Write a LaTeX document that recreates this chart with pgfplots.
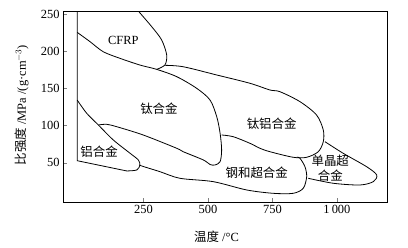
\documentclass[border=0pt]{standalone}
\usepackage{pgfplots}
\pgfplotsset{compat=1.18}
\usepackage{fontspec}
\setmainfont{Liberation Serif}
\newfontfamily\cjk{Noto Sans CJK SC}
\begin{document}
\begin{tikzpicture}[font=\fontsize{12.5}{15}\selectfont]
\begin{axis}[
  scale only axis,
  width=324bp, height=190.3bp,
  xmin=-62, xmax=1194, ymin=-3, ymax=253.2,
  xtick={250,500,750,1000}, xticklabels={250,500,750,1\,000},
  ytick={50,100,150,200,250}, yticklabels={50,100,150,200,250},
  tick pos=left, tick align=inside, major tick length=4bp,
  axis line style={line width=0.7bp},
  xlabel={{\cjk 温度} /°C},
  ylabel={{\cjk 比强度} /MPa /(g·cm$^{-3}$)},
  every axis x label/.style={at={(axis description cs:0.474,-0.182)}, anchor=center},
  every axis y label/.style={at={(axis description cs:-0.127,0.51)}, anchor=center, rotate=90},
  clip=false,
]
% left line and Al bottom
\addplot[black, line width=0.8bp, sharp plot] coordinates {(-7,253) (-7,52.6) (185,38.8)};
% Al upper curve and tip
\addplot[black, line width=0.8bp, smooth] coordinates {(-7,134.3) (30,116.4) (75,100.7) (133,80.5) (198,62.6) (230,53.6) (236,46.8) (224,40.1) (185,38.8)};
% CFRP lower curve, Ti right edge, Ti bottom
\addplot[black, line width=0.8bp, smooth] coordinates {(-7,225.4) (43,212.8) (94,199.3) (159,190.4) (236,181.4) (301,175.6) (379,165.7) (456,150.1) (508,134.3) (534,111.8) (547,89.5) (553,67) (547,51.3) (527,46.8) (508,47.5) (482,53.6) (404,64.7) (379,69.3) (249,87.2) (146,98.4) (107,101.6) (75,100.7)};
% CFRP right bulge
\addplot[black, line width=0.8bp, smooth] coordinates {(301,175.6) (333,181.4) (340,194.9) (320.5,215.1) (282,233) (232.6,253)};
% TiAl
\addplot[black, line width=0.8bp, smooth] coordinates {(333,181) (404,179.1) (534,168) (663,156.8) (740,147.8) (779,145.5) (857,132) (921,114.1) (947,93.9) (947,78.2) (927.5,64.7) (882.6,57.2) (830.6,57.2) (740.3,64.7) (701.6,69.3) (662.8,76) (598,84.9) (553,87.2)};
% steel and superalloy
\addplot[black, line width=0.8bp, smooth] coordinates {(236,46.8) (243,45.5) (314,37.8) (391.5,28.9) (520.5,24.4) (650,13.2) (753,8.7) (830.6,8.7) (869.4,15.5) (882.6,31.1) (876,44.5) (856.6,55.9) (845,57.4)};
% single crystal
\addplot[black, line width=0.8bp, smooth] coordinates {(953.5,78.2) (1024,62.6) (1115,44.5) (1154,33.4) (1141,24.4) (1089,19.9) (986,22.2) (889,28.9)};
\node at (axis cs:172,214) {CFRP};
\node at (axis cs:310,122) {\cjk 钛合金};
\node at (axis cs:747,102) {\cjk 钛铝合金};
\node at (axis cs:78,65) {\cjk 铝合金};
\node at (axis cs:689,36) {\cjk 钢和超合金};
\node[align=center, inner sep=0pt] at (axis cs:974,42) {\cjk 单晶超\\\cjk 合金};
\end{axis}
\pgfresetboundingbox
\path (current axis.south west) ++(-63bp,-46bp) rectangle ++(408bp,248bp);
\end{tikzpicture}
\end{document}
